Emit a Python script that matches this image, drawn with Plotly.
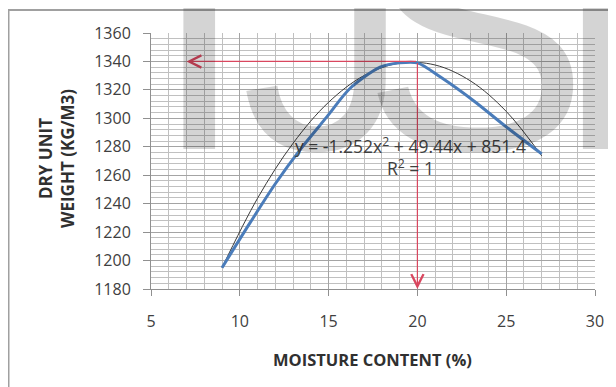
import plotly.graph_objects as go

# Dry unit weight curve (moisture content %, dry unit weight kg/m3)
moisture = [9, 10.6, 12, 13.4, 14.9, 16.2, 17.9, 19, 20, 21.3, 23.2, 25, 27]
dry_weight = [1195, 1227, 1254, 1278, 1301, 1321, 1336, 1339, 1339, 1329, 1312, 1294, 1275]

# Polynomial trendline values (y = -1.252x² + 49.44x + 851.4)
trend_x = [9, 11, 13, 15, 17, 19, 21, 23, 25, 27]
trend_y = [1195.0, 1243.8, 1282.5, 1311.3, 1330.1, 1338.8, 1337.5, 1326.2, 1304.9, 1273.6]

# Reading arrows (max dry weight and optimum moisture content)
max_dry = 1340
omc = 20
arrow_left_x = 7
arrow_bottom_y = 1180

x_ticks = [5, 10, 15, 20, 25, 30]
y_ticks = [1180, 1200, 1220, 1240, 1260, 1280, 1300, 1320, 1340, 1360]

equation_text = "y = -1.252x<sup>2</sup> + 49.44x + 851.4"
r2_text = "R<sup>2</sup> = 1"

FONT = "Open Sans"
OFF = 8  # page body margin
W, H = 608, 379
L, R, T, B = 143, 21, 25, 98
pw, ph = W - L - R, H - T - B


def wx(xw):
    return (xw - OFF - L) / pw


def wy(yw):
    return (H - B - (yw - OFF)) / ph


fig = go.Figure()
fig.add_trace(go.Scatter(x=trend_x, y=trend_y, mode="lines",
                         line=dict(color="#3a3a3a", width=1, shape="spline"),
                         hoverinfo="skip", showlegend=False))
fig.add_trace(go.Scatter(x=moisture, y=dry_weight, mode="lines",
                         line=dict(color="#4a7cba", width=3, shape="spline", smoothing=0.8),
                         showlegend=False))

red = "#d9475f"
fig.add_annotation(x=arrow_left_x, y=max_dry, ax=omc, ay=max_dry, xref="x", yref="y",
                   axref="x", ayref="y", text="", showarrow=True, arrowhead=5,
                   arrowsize=2.0, arrowwidth=1.2, arrowcolor=red)
fig.add_annotation(x=omc, y=arrow_bottom_y, ax=omc, ay=max_dry, xref="x", yref="y",
                   axref="x", ayref="y", text="", showarrow=True, arrowhead=5,
                   arrowsize=2.0, arrowwidth=1.2, arrowcolor=red)

fig.add_annotation(x=wx(410), y=wy(145), xref="paper", yref="paper", text=equation_text,
                   xanchor="center", yanchor="middle", showarrow=False,
                   font=dict(family=FONT, size=17.5, color="#404040"))
fig.add_annotation(x=wx(410), y=wy(167), xref="paper", yref="paper", text=r2_text,
                   xanchor="center", yanchor="middle", showarrow=False,
                   font=dict(family=FONT, size=17.5, color="#404040"))

# y-axis title
fig.add_annotation(x=wx(56), y=wy(159), xref="paper", yref="paper",
                   text="<b>DRY UNIT<br>WEIGHT (KG/M3)</b>", textangle=-90, showarrow=False,
                   xanchor="center", yanchor="middle",
                   font=dict(family=FONT, size=17, color="#303030"))
# x-axis title
fig.add_annotation(x=wx(372), y=wy(359), xref="paper", yref="paper",
                   text="<b>MOISTURE CONTENT (%)</b>", showarrow=False,
                   xanchor="center", yanchor="middle",
                   font=dict(family=FONT, size=16.5, color="#303030"))

# watermark letters (centres measured in the reference)
wm_letters = ["I", "J", "S", "E"]
wm_centres = [199, 326, 475, 668]
for ch, cx in zip(wm_letters, wm_centres):
    fig.add_annotation(x=wx(cx), y=wy(153 + 70), xref="paper", yref="paper", text=ch,
                       xanchor="center", yanchor="bottom", showarrow=False,
                       font=dict(family="Liberation Sans", size=340, color="rgba(0,0,0,0.17)"))

# outer border
fig.add_shape(type="rect", xref="paper", yref="paper", x0=wx(8.5), y0=wy(400), x1=wx(640),
              y1=wy(10), line=dict(color="#a0a0a0", width=2), layer="below")

fig.update_xaxes(range=[5, 30], tickvals=x_ticks, showgrid=True, gridcolor="#a4a4a4",
                 gridwidth=1, showline=True, linecolor="#909090", ticks="outside", ticklen=6,
                 tickcolor="#909090", zeroline=False,
                 tickfont=dict(family=FONT, size=16, color="#404040"), ticklabelstandoff=12,
                 minor=dict(dtick=1, showgrid=True, gridcolor="#c0c0c0", gridwidth=1))
fig.update_yaxes(range=[1180, 1360], tickvals=y_ticks, showgrid=True, gridcolor="#a4a4a4",
                 gridwidth=1, showline=True, linecolor="#909090", ticks="outside", ticklen=7,
                 tickcolor="#909090", zeroline=False,
                 tickfont=dict(family=FONT, size=16, color="#404040"), ticklabelstandoff=9,
                 minor=dict(tick0=1180, dtick=4, showgrid=True, gridcolor="#c0c0c0", gridwidth=1))

fig.update_layout(width=W, height=H, margin=dict(l=L, r=R, t=T, b=B),
                  paper_bgcolor="white", plot_bgcolor="white", showlegend=False)

fig.write_html("out.html")
